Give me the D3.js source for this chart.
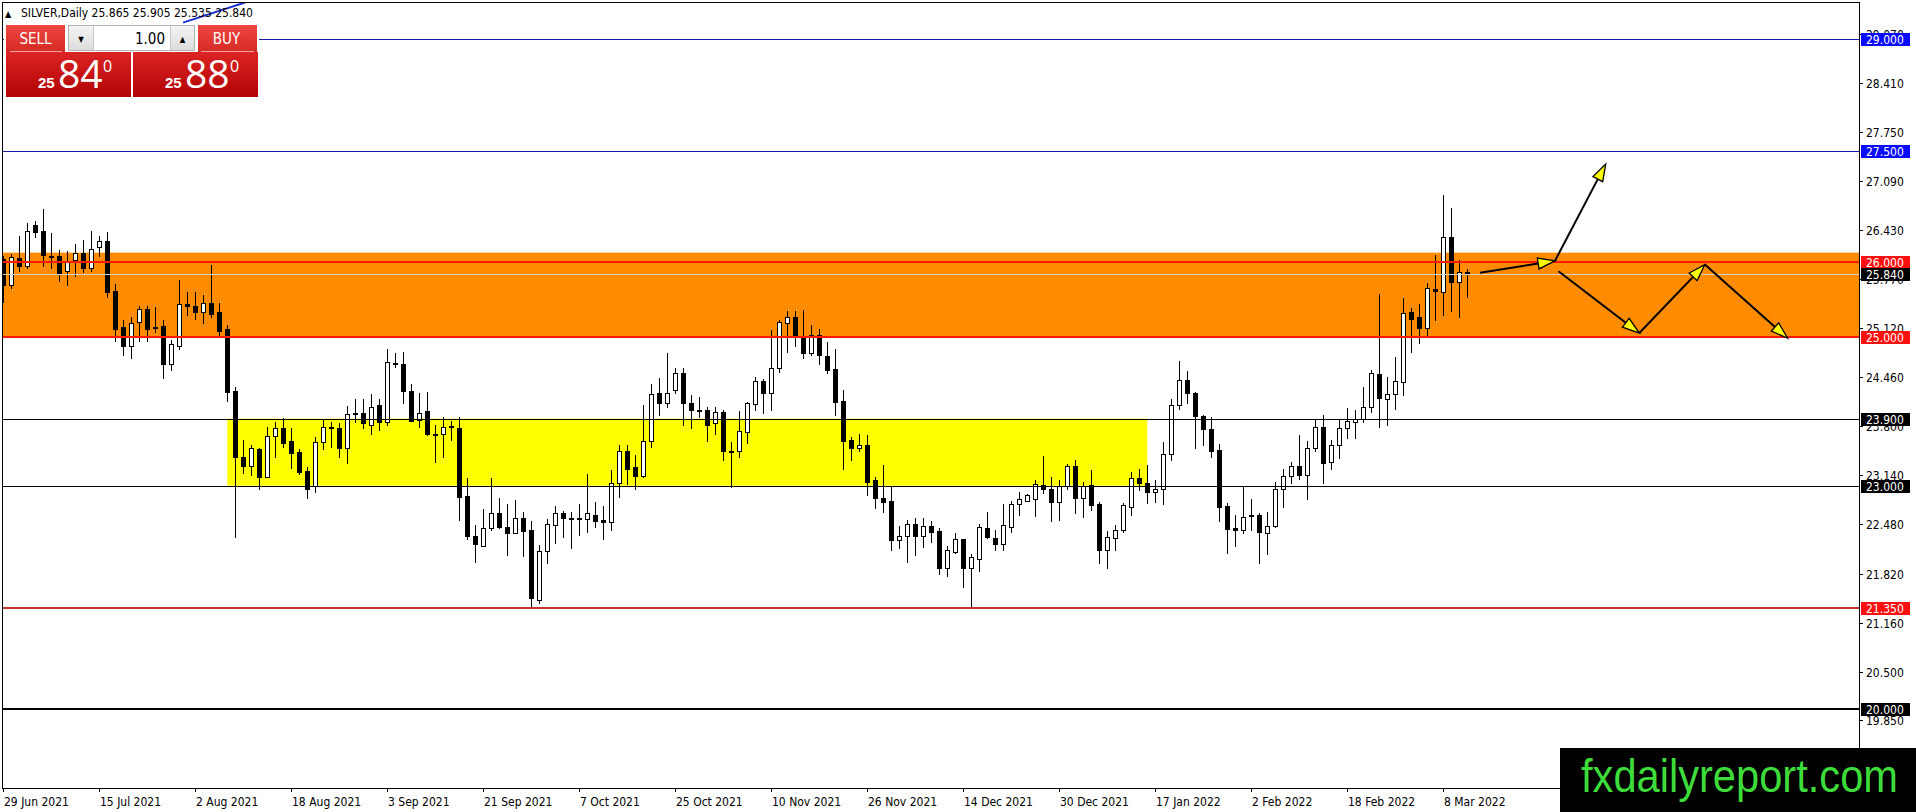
<!DOCTYPE html>
<html><head><meta charset="utf-8">
<script src="https://cdn.jsdelivr.net/npm/d3@7"></script>
<style>
html,body{margin:0;padding:0;background:#fff;overflow:hidden}
svg{display:block}
text{font-family:"DejaVu Sans Condensed","DejaVu Sans",sans-serif}
</style></head>
<body>
<svg id="chart" width="1916" height="812"></svg>
<script>
// ---------------- DATA ----------------
const symbolTitle = "SILVER,Daily";
const lastOHLC = [25.865, 25.905, 25.535, 25.840];
const open  = [26.05,25.69,26.06,25.95,26.50,26.42,26.09,26.08,25.88,26.03,26.13,25.93,26.20,26.28,25.62,25.13,24.88,25.20,25.37,25.13,25.14,24.63,24.88,25.44,25.42,25.33,25.46,25.33,25.10,24.27,23.39,23.27,23.49,23.12,23.67,23.78,23.60,23.45,23.20,22.99,23.58,23.79,23.78,23.50,23.96,23.97,23.82,24.08,23.85,24.65,24.63,24.27,23.88,24.00,23.70,23.69,23.80,23.78,22.86,22.32,22.19,22.43,22.63,22.45,22.37,22.57,22.41,21.47,22.12,22.47,22.63,22.57,22.56,22.55,22.61,22.54,22.51,23.03,23.46,23.25,23.13,23.60,24.24,24.11,24.28,24.52,24.11,24.02,24.02,23.84,23.99,23.47,23.46,23.72,24.10,24.40,24.25,24.58,25.19,25.26,25.00,24.78,25.02,24.74,24.57,24.14,23.61,23.51,23.55,23.08,22.84,22.79,22.27,22.33,22.49,22.33,22.46,22.39,21.90,22.11,22.28,21.89,22.02,22.43,22.30,22.22,22.45,22.75,22.80,22.82,23.01,22.96,22.78,22.99,23.26,22.84,23.01,22.75,22.13,22.30,22.40,22.72,23.10,23.03,22.92,22.96,23.42,24.08,24.42,24.24,23.94,23.76,23.48,22.73,22.43,22.41,22.59,22.61,22.37,22.46,22.96,23.13,23.26,23.15,23.51,23.79,23.32,23.54,23.78,23.86,23.90,24.05,24.50,24.17,24.23,24.39,25.33,25.27,25.12,25.64,25.60,26.34,25.73,25.865];
const high  = [26.09,26.11,26.35,26.53,26.56,26.72,26.39,26.17,26.15,26.24,26.30,26.42,26.35,26.41,25.71,25.23,25.27,25.42,25.42,25.40,25.22,24.96,25.76,25.60,25.60,25.56,25.96,25.46,25.16,24.32,23.62,23.54,23.51,23.79,23.85,23.91,23.78,23.49,23.25,23.65,23.90,23.86,23.84,24.07,24.17,24.16,24.23,24.17,24.83,24.78,24.79,24.36,24.25,24.26,23.81,23.92,23.87,23.92,23.10,22.47,22.68,23.10,22.84,22.76,22.81,22.64,22.52,22.20,22.55,22.73,22.66,22.65,22.76,23.16,22.78,22.73,23.21,23.55,23.55,23.41,24.08,24.37,24.44,24.78,24.58,24.58,24.22,24.19,24.05,24.05,24.02,23.58,24.00,24.13,24.46,24.43,25.09,25.22,25.34,25.35,25.36,25.16,25.11,24.93,24.84,24.28,23.65,23.69,23.68,23.12,23.28,22.98,22.46,22.54,22.56,22.56,22.52,22.43,22.19,22.37,22.29,22.08,22.49,22.65,22.40,22.75,22.80,22.91,22.89,23.07,23.40,23.12,23.07,23.29,23.35,23.05,23.21,22.78,22.39,22.47,22.77,23.18,23.23,23.28,23.08,23.59,24.17,24.67,24.54,24.26,23.95,23.92,23.56,22.77,22.61,23.00,22.82,22.63,22.64,23.05,23.22,23.32,23.68,23.60,23.89,23.95,23.62,23.88,24.04,24.02,24.33,24.55,25.57,24.46,24.73,25.52,25.39,25.44,25.72,26.10,26.90,26.73,26.03,25.905];
const low   = [25.47,25.65,25.88,25.93,26.34,25.95,25.93,25.75,25.69,25.81,25.87,25.88,26.09,25.53,24.95,24.75,24.71,24.95,24.94,25.06,24.44,24.55,24.84,25.29,25.24,25.18,25.27,25.03,24.14,22.31,23.17,23.15,22.96,23.11,23.38,23.52,23.24,23.16,22.83,22.92,23.49,23.52,23.39,23.30,23.86,23.77,23.70,23.75,23.82,24.59,24.11,23.87,23.79,23.68,23.32,23.39,23.62,22.54,22.28,21.98,22.19,22.41,22.43,22.07,22.36,22.06,21.37,21.42,21.96,22.23,22.31,22.16,22.34,22.38,22.45,22.29,22.41,22.85,23.02,22.96,23.12,23.52,23.95,24.06,24.24,23.81,23.78,23.92,23.60,23.70,23.34,22.98,23.39,23.57,24.01,23.97,24.01,24.53,24.79,24.87,24.71,24.75,24.63,24.51,23.95,23.22,23.34,23.47,22.87,22.70,22.64,22.13,22.16,21.98,22.07,22.18,22.25,21.82,21.78,22.10,21.64,21.37,21.85,22.30,22.13,22.13,22.38,22.60,22.79,22.59,22.90,22.53,22.54,22.96,22.63,22.58,22.67,21.96,21.89,22.14,22.38,22.60,22.94,22.77,22.78,22.75,23.34,24.03,24.11,23.51,23.55,23.39,22.53,22.10,22.19,22.36,22.41,21.96,22.08,22.45,22.72,23.04,23.09,22.82,23.47,23.03,23.23,23.37,23.64,23.64,23.85,23.99,23.79,23.81,24.03,24.22,24.80,24.92,25.01,25.22,25.29,25.35,25.26,25.535];
const close = [25.69,26.07,25.95,26.42,26.41,26.10,26.07,25.86,26.02,26.13,25.92,26.18,26.28,25.60,25.11,24.88,25.19,25.37,25.11,25.12,24.63,24.90,25.44,25.41,25.33,25.46,25.31,25.08,24.26,23.39,23.27,23.50,23.12,23.67,23.78,23.57,23.44,23.19,22.96,23.58,23.79,23.78,23.50,23.96,23.97,23.84,24.06,23.85,24.66,24.64,24.27,23.87,23.98,23.70,23.69,23.79,23.79,22.85,22.33,22.21,22.43,22.63,22.45,22.36,22.57,22.39,21.49,22.12,22.48,22.63,22.57,22.56,22.55,22.63,22.52,22.51,23.03,23.46,23.23,23.13,23.60,24.23,24.11,24.25,24.52,24.11,24.01,24.01,23.82,23.99,23.47,23.46,23.74,24.11,24.40,24.25,24.58,25.20,25.26,25.01,24.78,25.03,24.75,24.56,24.13,23.60,23.51,23.55,23.05,22.84,22.78,22.27,22.33,22.49,22.33,22.46,22.38,21.90,22.14,22.28,21.89,22.04,22.44,22.31,22.21,22.47,22.76,22.82,22.88,23.02,22.96,22.78,22.99,23.26,22.84,22.99,22.74,22.14,22.31,22.41,22.74,23.10,23.03,22.91,22.95,23.42,24.09,24.42,24.24,23.93,23.76,23.47,22.72,22.42,22.41,22.58,22.60,22.38,22.46,22.96,23.13,23.27,23.15,23.50,23.79,23.31,23.54,23.78,23.87,23.89,24.05,24.52,24.18,24.23,24.41,25.32,25.24,25.12,25.65,25.62,26.34,25.73,25.87,25.840];

const xTickIndex  = [0,12,24,36,48,60,72,84,96,108,120,132,144,156,168,180];
const xTickLabels = ["29 Jun 2021","15 Jul 2021","2 Aug 2021","18 Aug 2021","3 Sep 2021","21 Sep 2021","7 Oct 2021","25 Oct 2021","10 Nov 2021","26 Nov 2021","14 Dec 2021","30 Dec 2021","17 Jan 2022","2 Feb 2022","18 Feb 2022","8 Mar 2022"];
const yTickValues = [29.07,28.41,27.75,27.09,26.43,25.77,25.12,24.46,23.80,23.14,22.48,21.82,21.16,20.50,19.85];

const levelValues = [29.000, 27.500, 26.000, 25.840, 25.000, 23.900, 23.000, 21.350, 20.000];
const levelKinds  = ["target","target","resist","bid","resist","zone","zone","support","floor"];

const orangeZone = [25.00, 26.13];            // value range
const yellowZone = {from:28, to:143, lo:23.00, hi:23.90}; // bar index & value range
const trendLine  = [[22.46, 29.22],[30.21, 29.49]];
const arrowSegments = [
  [[184.6,25.86],[193.96,26.02]],
  [[193.96,26.02],[200.3,27.32]],
  [[194.4,25.88],[204.5,25.05]],
  [[204.5,25.05],[212.7,25.97]],
  [[212.7,25.97],[223.05,24.98]]
];
const sellPrice = ["25","84","0"];
const buyPrice  = ["25","88","0"];
const lotSize = "1.00";
const watermark = "fxdailyreport.com";

// ---------------- LAYOUT ----------------
const W=1916,H=812;
const P={left:2,right:1859,top:3,bottom:788};
const x = d3.scaleLinear().domain([0,232]).range([3.3,3.3+232*8]);
const y = d3.scaleLinear().domain([20,29]).range([709,39]);
const svg = d3.select("#chart");
const defs = svg.append("defs");
defs.append("clipPath").attr("id","plotClip").append("rect")
  .attr("x",P.left).attr("y",P.top).attr("width",P.right-P.left).attr("height",P.bottom-P.top);
function grad(id,c1,c2){const g=defs.append("linearGradient").attr("id",id).attr("x1",0).attr("y1",0).attr("x2",0).attr("y2",1);
  g.append("stop").attr("offset","0%").attr("stop-color",c1);g.append("stop").attr("offset","100%").attr("stop-color",c2);}
grad("btnG","#ee4640","#d42a24");
grad("priceG","#dc2424","#b10303");
grad("grayG","#f4f4f4","#dcdcdc");

svg.append("rect").attr("width",W).attr("height",H).attr("fill","#fff");
const plot = svg.append("g").attr("clip-path","url(#plotClip)");

// zones
plot.append("rect").attr("x",P.left).attr("width",P.right-P.left)
  .attr("y",y(orangeZone[1])).attr("height",y(orangeZone[0])-y(orangeZone[1])).attr("fill","#ff8c00");
plot.append("rect").attr("x",x(yellowZone.from)).attr("width",x(yellowZone.to)-x(yellowZone.from))
  .attr("y",y(yellowZone.hi)).attr("height",y(yellowZone.lo)-y(yellowZone.hi)).attr("fill","#ffff00");

// candles
const bars = d3.range(open.length).map(i=>({i,o:open[i],h:high[i],l:low[i],c:close[i]}));
const cg = plot.append("g").attr("shape-rendering","crispEdges");
bars.forEach(d=>{
  const cx=Math.round(x(d.i));
  cg.append("line").attr("x1",cx+0.5).attr("x2",cx+0.5).attr("y1",Math.round(y(d.h))).attr("y2",Math.round(y(d.l))+1)
    .attr("stroke","#000").attr("stroke-width",1);
  const top=Math.round(y(Math.max(d.o,d.c))), bot=Math.round(y(Math.min(d.o,d.c)));
  if(d.c>=d.o){
    cg.append("rect").attr("x",cx-1.5).attr("width",4).attr("y",top+0.5).attr("height",Math.max(bot-top,1))
      .attr("fill","#fff").attr("stroke","#000").attr("stroke-width",1);
  } else {
    cg.append("rect").attr("x",cx-2).attr("width",5).attr("y",top).attr("height",Math.max(bot-top,1)+1).attr("fill","#000");
  }
});

// horizontal levels
const levelStyle = {target:{c:"#1a1aa6",w:1},resist:{c:"#ff1a00",w:2},bid:{c:"#d6d0c8",w:1},zone:{c:"#000",w:1},support:{c:"#c43232",w:2},floor:{c:"#000",w:2}};
levelValues.forEach((v,k)=>{
  const s=levelStyle[levelKinds[k]];
  const yy = s.w===1? Math.round(y(v))+0.5 : Math.round(y(v));
  plot.append("line").attr("x1",P.left).attr("x2",P.right).attr("y1",yy).attr("y2",yy)
    .attr("stroke",s.c).attr("stroke-width",s.w).attr("shape-rendering","crispEdges");
});

// trend line
plot.append("line").attr("x1",x(trendLine[0][0])).attr("y1",y(trendLine[0][1]))
  .attr("x2",x(trendLine[1][0])).attr("y2",y(trendLine[1][1])).attr("stroke","#1c2fd0").attr("stroke-width",2);

// arrows
const ag = plot.append("g");
arrowSegments.forEach(seg=>{
  const x1=x(seg[0][0]),y1=y(seg[0][1]),x2=x(seg[1][0]),y2=y(seg[1][1]);
  const L=Math.hypot(x2-x1,y2-y1), ux=(x2-x1)/L, uy=(y2-y1)/L;
  const hl=17, hw=5.5;
  const bx=x2-ux*hl, by=y2-uy*hl;
  ag.append("line").attr("x1",x1).attr("y1",y1).attr("x2",bx).attr("y2",by).attr("stroke","#000").attr("stroke-width",2);
  ag.append("path").attr("d",`M${x2},${y2}L${bx-uy*hw},${by+ux*hw}L${bx+uy*hw},${by-ux*hw}Z`)
    .attr("fill","#ffff00").attr("stroke","#000").attr("stroke-width",1.3).attr("stroke-linejoin","miter");
});

// frame
const fr = svg.append("g").attr("stroke","#000").attr("stroke-width",1).attr("shape-rendering","crispEdges");
fr.append("line").attr("x1",P.left).attr("x2",P.right).attr("y1",P.top-0.5).attr("y2",P.top-0.5);
fr.append("line").attr("x1",P.left+0.5).attr("x2",P.left+0.5).attr("y1",P.top-1).attr("y2",P.bottom+1);
fr.append("line").attr("x1",P.left).attr("x2",P.right+1).attr("y1",P.bottom+0.5).attr("y2",P.bottom+0.5);
fr.append("line").attr("x1",P.right+0.5).attr("x2",P.right+0.5).attr("y1",P.top-1).attr("y2",P.bottom+1);

// y axis ticks
const ya = svg.append("g");
yTickValues.forEach(v=>{
  const yy=Math.round(y(v))+0.5;
  ya.append("line").attr("x1",P.right).attr("x2",P.right+4).attr("y1",yy).attr("y2",yy).attr("stroke","#000").attr("shape-rendering","crispEdges");
  ya.append("text").attr("x",1866).attr("y",yy).attr("dy","0.36em").attr("font-size",12).attr("fill","#000").text(v.toFixed(3));
});
// level price tags
const tagBg = {target:"#0a0aff",resist:"#ff1010",bid:"#000",zone:"#000",support:"#ff1010",floor:"#000"};
levelValues.forEach((v,k)=>{
  const yy=Math.round(y(v));
  ya.append("rect").attr("x",1861).attr("y",yy-6).attr("width",49).attr("height",13).attr("fill",tagBg[levelKinds[k]]);
  ya.append("text").attr("x",1866).attr("y",yy+0.5).attr("dy","0.36em").attr("font-size",12).attr("fill","#fff").text(v.toFixed(3));
});

// x axis
const xa = svg.append("g");
xTickIndex.forEach((idx,k)=>{
  const xx=Math.round(x(idx))+0.5;
  xa.append("line").attr("x1",xx).attr("x2",xx).attr("y1",P.bottom).attr("y2",P.bottom+4).attr("stroke","#000").attr("shape-rendering","crispEdges");
  xa.append("text").attr("x",xx+0.5).attr("y",806).attr("font-size",12).attr("fill","#000").text(xTickLabels[k]);
});

// header
const hd = svg.append("g");
hd.append("text").attr("x",5).attr("y",17).attr("font-size",9).attr("fill","#000").text("▲");
hd.append("text").attr("x",21).attr("y",17).attr("font-size",12).attr("fill","#000")
  .text(symbolTitle+"  "+lastOHLC.map(v=>v.toFixed(3)).join(" "));

// trading panel
const tp = svg.append("g");
tp.append("rect").attr("x",4).attr("y",24).attr("width",255).attr("height",75).attr("fill","#fff");
tp.append("rect").attr("x",6).attr("y",25).attr("width",59).attr("height",27).attr("fill","url(#btnG)");
tp.append("rect").attr("x",198).attr("y",25).attr("width",59).attr("height",27).attr("fill","url(#btnG)");
tp.append("line").attr("x1",10).attr("x2",62).attr("y1",51.5).attr("y2",51.5).attr("stroke","#f3a09c");
tp.append("line").attr("x1",201).attr("x2",254).attr("y1",51.5).attr("y2",51.5).attr("stroke","#f3a09c");
tp.append("text").attr("x",35.5).attr("y",44).attr("text-anchor","middle").attr("font-size",15).attr("fill","#fff")
  .style("font-family","'DejaVu Sans Condensed','DejaVu Sans',sans-serif").text("SELL");
tp.append("text").attr("x",226.5).attr("y",44).attr("text-anchor","middle").attr("font-size",15).attr("fill","#fff").text("BUY");
// lot control
tp.append("rect").attr("x",68.5).attr("y",25.5).attr("width",126).attr("height",25).attr("fill","#fff").attr("stroke","#b4b4b4");
tp.append("rect").attr("x",69).attr("y",26).attr("width",24).attr("height",24).attr("fill","url(#grayG)");
tp.append("rect").attr("x",171).attr("y",26).attr("width",23).attr("height",24).attr("fill","url(#grayG)");
tp.append("line").attr("x1",93.5).attr("x2",93.5).attr("y1",26).attr("y2",50).attr("stroke","#c8c8c8");
tp.append("line").attr("x1",170.5).attr("x2",170.5).attr("y1",26).attr("y2",50).attr("stroke","#c8c8c8");
tp.append("text").attr("x",81).attr("y",42).attr("text-anchor","middle").attr("font-size",8).attr("fill","#000").text("▼");
tp.append("text").attr("x",182.5).attr("y",42).attr("text-anchor","middle").attr("font-size",8).attr("fill","#000").text("▲");
tp.append("text").attr("x",165).attr("y",44).attr("text-anchor","end").attr("font-size",15).attr("fill","#000").text(lotSize);
// price boxes
[[6,sellPrice],[133,buyPrice]].forEach(([bx,p])=>{
  tp.append("rect").attr("x",bx).attr("y",52).attr("width",125).attr("height",45).attr("fill","url(#priceG)");
  tp.append("text").attr("x",bx+32).attr("y",88).attr("font-size",15).attr("font-weight","bold").attr("fill","#fff")
    .style("font-family","'Liberation Sans',Arial,sans-serif").text(p[0]);
  tp.append("text").attr("x",bx+52).attr("y",88).attr("font-size",39).attr("fill","#fff")
    .style("font-family","'Open Sans','Liberation Sans',sans-serif").text(p[1]);
  tp.append("text").attr("x",bx+97).attr("y",72).attr("font-size",16).attr("fill","#fff")
    .style("font-family","'Open Sans','Liberation Sans',sans-serif").text(p[2]);
});

// watermark
const wm = svg.append("g");
wm.append("rect").attr("x",1560).attr("y",748).attr("width",W-1560).attr("height",H-748).attr("fill","#000");
wm.append("text").attr("x",1581).attr("y",792).attr("font-size",47).attr("fill","#3edc3a")
  .attr("textLength",317).attr("lengthAdjust","spacingAndGlyphs")
  .style("font-family","'Liberation Sans',Arial,sans-serif").text(watermark);
</script>
</body></html>
